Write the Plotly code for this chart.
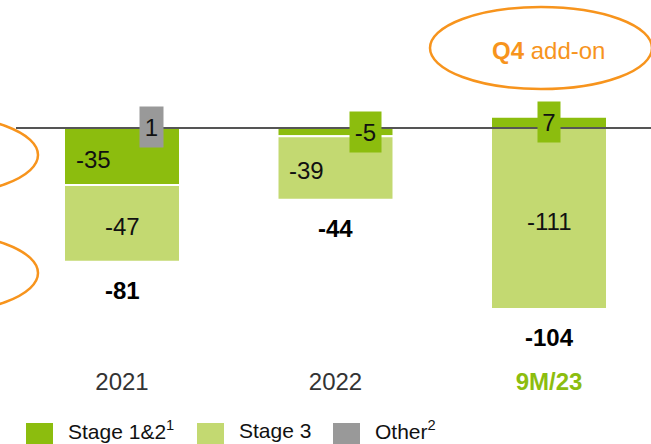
import plotly.graph_objects as go

# ---------------- data ----------------
categories = ["2021", "2022", "9M/23"]
stage12 = [-35, -5, 7]
stage3 = [-47, -39, -111]
other = [1, 0, 0]
series_names = ["Stage 1&2<sup>1</sup>", "Stage 3", "Other<sup>2</sup>"]
tick_labels = ["2021", "2022", "<b><span style='color:#8CBD0E'>9M/23</span></b>"]
callout_text = "<b>Q4</b> add-on"

# ---------------- styles ----------------
W, H = 651, 444
PLOT_H = 365
FONT = "Liberation Sans, Arial, sans-serif"
colors = ["#8CBD0E", "#C3D971", "#999999"]
ORANGE = "#F7941D"
# label x-offsets (px) per series per category
label_xshift = [[-29, 30, 0], [0, -29, 0], [29, 0, 0]]
box_width = {"1": 23, "-5": 31, "7": 22}

y_top = 128 / 1.63
y_bot = -(PLOT_H - 128) / 1.63
x_left = -122 / 213.5
x_right = 2 + (651 - 549) / 213.5


def px(x):
    return x / W


def py(y):
    return (PLOT_H - y) / PLOT_H


fig = go.Figure()
all_series = [stage12, stage3, other]
for name, vals, col in zip(series_names, all_series, colors):
    fig.add_trace(go.Bar(
        x=list(range(len(categories))), y=vals, name=name,
        marker=dict(color=col, line=dict(color="white", width=2)),
        width=116 / 213.5, showlegend=False, hoverinfo="skip",
    ))

annotations = []
for ci in range(len(categories)):
    pos, neg = 0.0, 0.0
    for si, vals in enumerate(all_series):
        v = vals[ci]
        if v == 0:
            continue
        if v > 0:
            mid = pos + v / 2
            pos += v
        else:
            mid = neg + v / 2
            neg += v
        txt = f"{v}"
        a = dict(x=ci, y=mid, xref="x", yref="y", text=txt, showarrow=False,
                 xanchor="center", yanchor="middle",
                 xshift=label_xshift[si][ci],
                 font=dict(family=FONT, size=24, color="#111111"))
        if abs(v) < 10:
            a.update(bgcolor=colors[si], height=40, width=box_width.get(txt, 26),
                     borderpad=0)
        else:
            a.update(yshift=-3)
        annotations.append(a)
    total = sum(s[ci] for s in all_series)
    annotations.append(dict(x=ci, y=neg, xref="x", yref="y", yshift=-29,
                            xanchor="center", yanchor="middle",
                            text=f"<b>{total}</b>", showarrow=False,
                            font=dict(family=FONT, size=24, color="#000000")))

# callout text
annotations.append(dict(x=px(548), y=py(50), xref="paper", yref="paper",
                        xanchor="center", yanchor="middle",
                        text=callout_text, showarrow=False,
                        font=dict(family=FONT, size=24, color=ORANGE)))

shapes = []
# baseline
shapes.append(dict(type="line", xref="paper", yref="y", x0=px(16), x1=1,
                   y0=0, y1=0, line=dict(color="#555555", width=2), layer="above"))
# ellipses
for (x0, y0, x1, y1) in [(430, 7, 652, 89), (-184, 114, 38, 196), (-184, 232, 38, 314)]:
    shapes.append(dict(type="circle", xref="paper", yref="paper",
                       x0=px(x0), x1=px(x1), y0=py(y0), y1=py(y1),
                       line=dict(color=ORANGE, width=2.5)))

# manual legend
legend_sq = [26, 197, 333]
for name, col, sx in zip(series_names, colors, legend_sq):
    shapes.append(dict(type="rect", xref="paper", yref="paper",
                       x0=px(sx), x1=px(sx + 27), y0=py(423), y1=py(450),
                       fillcolor=col, line=dict(width=0)))
    annotations.append(dict(x=px(sx + 40), y=py(430), xref="paper", yref="paper",
                            xanchor="left", yanchor="middle", text=name, showarrow=False,
                            font=dict(family=FONT, size=21, color="#111111")))

fig.update_layout(
    width=W, height=H, margin=dict(l=0, r=0, t=0, b=H - PLOT_H),
    barmode="relative", plot_bgcolor="white", paper_bgcolor="white",
    showlegend=False, annotations=annotations, shapes=shapes,
    xaxis=dict(range=[x_left, x_right], tickmode="array",
               tickvals=list(range(len(categories))), ticktext=tick_labels,
               showgrid=False, zeroline=False, showline=False, ticks="",
               tickfont=dict(family=FONT, size=24, color="#333333")),
    yaxis=dict(range=[y_bot, y_top], visible=False, showgrid=False, zeroline=False),
)

fig.write_html("out.html")
